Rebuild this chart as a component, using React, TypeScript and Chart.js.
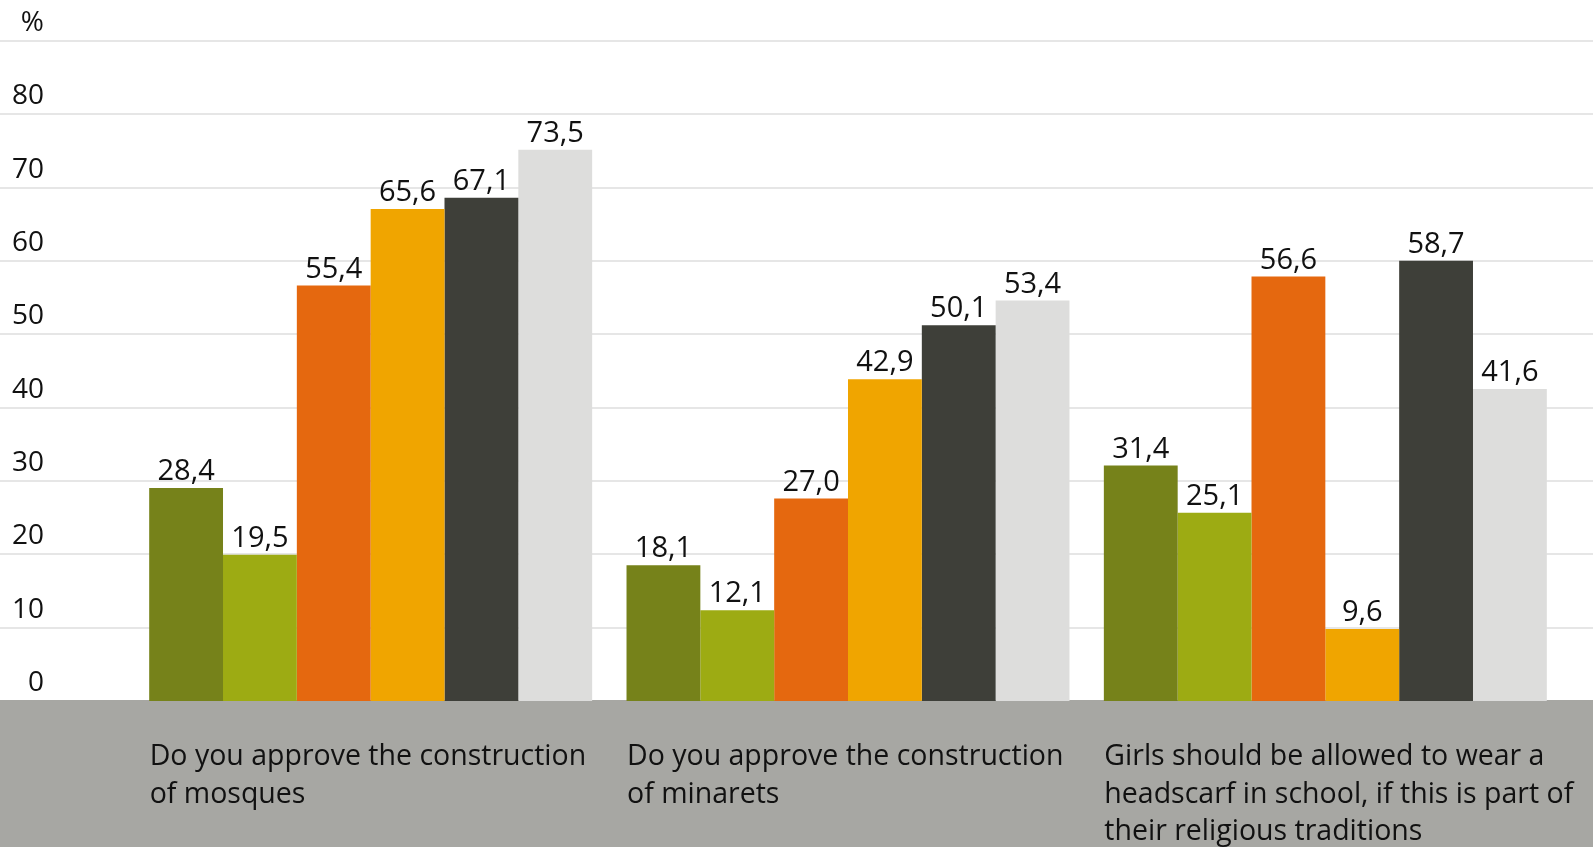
import React, { useEffect, useRef } from 'react';
import { Chart, registerables } from 'chart.js';

Chart.register(...registerables);

const categories: string[][] = [
  ['Do you approve the construction', 'of mosques'],
  ['Do you approve the construction', 'of minarets'],
  ['Girls should be allowed to wear a', 'headscarf in school, if this is part of', 'their religious traditions'],
];

const seriesNames = ['Series 1', 'Series 2', 'Series 3', 'Series 4', 'Series 5', 'Series 6'];
const series1 = [28.4, 18.1, 31.4];
const series2 = [19.5, 12.1, 25.1];
const series3 = [55.4, 27.0, 56.6];
const series4 = [65.6, 42.9, 9.6];
const series5 = [67.1, 50.1, 58.7];
const series6 = [73.5, 53.4, 41.6];
const seriesColors = ['#76821a', '#9dab13', '#e5680f', '#f0a500', '#3e3f39', '#dddddc'];

const yTickTop = 90;
const yTickStep = 10;
const barAxisMax = 88;

const FONT = '"Open Sans", "Noto Sans", sans-serif';
const GRID = '#e6e6e6';
const BAND = '#a7a7a3';
const TEXT = '#111111';

const bandPlugin = {
  id: 'bandPlugin',
  beforeDraw(chart: any) {
    const { ctx, chartArea, width, height } = chart;
    ctx.save();
    ctx.fillStyle = '#ffffff';
    ctx.fillRect(0, 0, width, height);
    ctx.fillStyle = BAND;
    ctx.fillRect(0, chartArea.bottom - 1, width, height - chartArea.bottom + 1);
    ctx.restore();
  },
};

const valueLabelPlugin = {
  id: 'valueLabelPlugin',
  afterDatasetsDraw(chart: any) {
    const { ctx } = chart;
    ctx.save();
    ctx.font = `29px ${FONT}`;
    ctx.fillStyle = TEXT;
    ctx.textAlign = 'center';
    ctx.textBaseline = 'alphabetic';
    chart.data.datasets.forEach((ds: any, i: number) => {
      const meta = chart.getDatasetMeta(i);
      meta.data.forEach((el: any, j: number) => {
        const v = ds.data[j] as number;
        ctx.fillText(v.toFixed(1).replace('.', ','), el.x, el.y - 8);
      });
    });
    ctx.restore();
  },
};

const gridColor = (c: any) => (c.tick && c.tick.value === 0 ? 'rgba(0,0,0,0)' : GRID);

export default function App() {
  const ref = useRef<HTMLCanvasElement | null>(null);

  useEffect(() => {
    if (!ref.current) return;
    const allSeries = [series1, series2, series3, series4, series5, series6];
    const chart = new Chart(ref.current, {
      type: 'bar',
      data: {
        labels: categories as any,
        datasets: allSeries.map((s, i) => ({
          label: seriesNames[i],
          data: s,
          backgroundColor: seriesColors[i],
          borderWidth: 0,
          barPercentage: 1,
          categoryPercentage: 0.928,
          yAxisID: 'y',
        })),
      },
      options: {
        responsive: false,
        animation: false,
        devicePixelRatio: 1,
        layout: { padding: { top: 41, left: 0, right: 0, bottom: 0 } },
        plugins: { legend: { display: false }, tooltip: { enabled: false } },
        scales: {
          x: {
            grid: { display: false, drawTicks: false },
            border: { display: false },
            ticks: {
              align: 'start',
              labelOffset: -221,
              padding: 37,
              maxRotation: 0,
              minRotation: 0,
              autoSkip: false,
              color: TEXT,
              font: { family: FONT, size: 28.5, lineHeight: 1.32 },
            },
            afterFit: (s: any) => {
              s.height = 146;
              s.paddingLeft = 0;
              s.paddingRight = 0;
            },
          },
          y: { display: false, min: 0, max: barAxisMax },
          y2: {
            position: 'left',
            min: 0,
            max: yTickTop,
            ticks: {
              stepSize: yTickStep,
              padding: -44,
              labelOffset: -18,
              color: TEXT,
              font: { family: FONT, size: 28 },
              callback: (v: any) => (Number(v) === yTickTop ? '%' : String(v)),
            },
            grid: { color: gridColor, tickColor: gridColor, lineWidth: 2, tickWidth: 2, tickLength: 132, drawTicks: true },
            border: { display: false },
            afterFit: (s: any) => {
              s.width = 132;
            },
          },
          y3: {
            position: 'right',
            min: 0,
            max: yTickTop,
            ticks: { stepSize: yTickStep, padding: 0, callback: () => '' },
            grid: { color: gridColor, tickColor: gridColor, lineWidth: 2, tickWidth: 2, tickLength: 29, drawTicks: true, drawOnChartArea: false },
            border: { display: false },
            afterFit: (s: any) => {
              s.width = 29;
            },
          },
        },
      } as any,
      plugins: [bandPlugin, valueLabelPlugin],
    });
    return () => chart.destroy();
  }, []);

  return (
    <div style={{ position: 'fixed', left: 0, top: 0, width: 1593, height: 847, background: '#fff' }}>
      <canvas ref={ref} width={1593} height={847} style={{ display: 'block' }} />
    </div>
  );
}
